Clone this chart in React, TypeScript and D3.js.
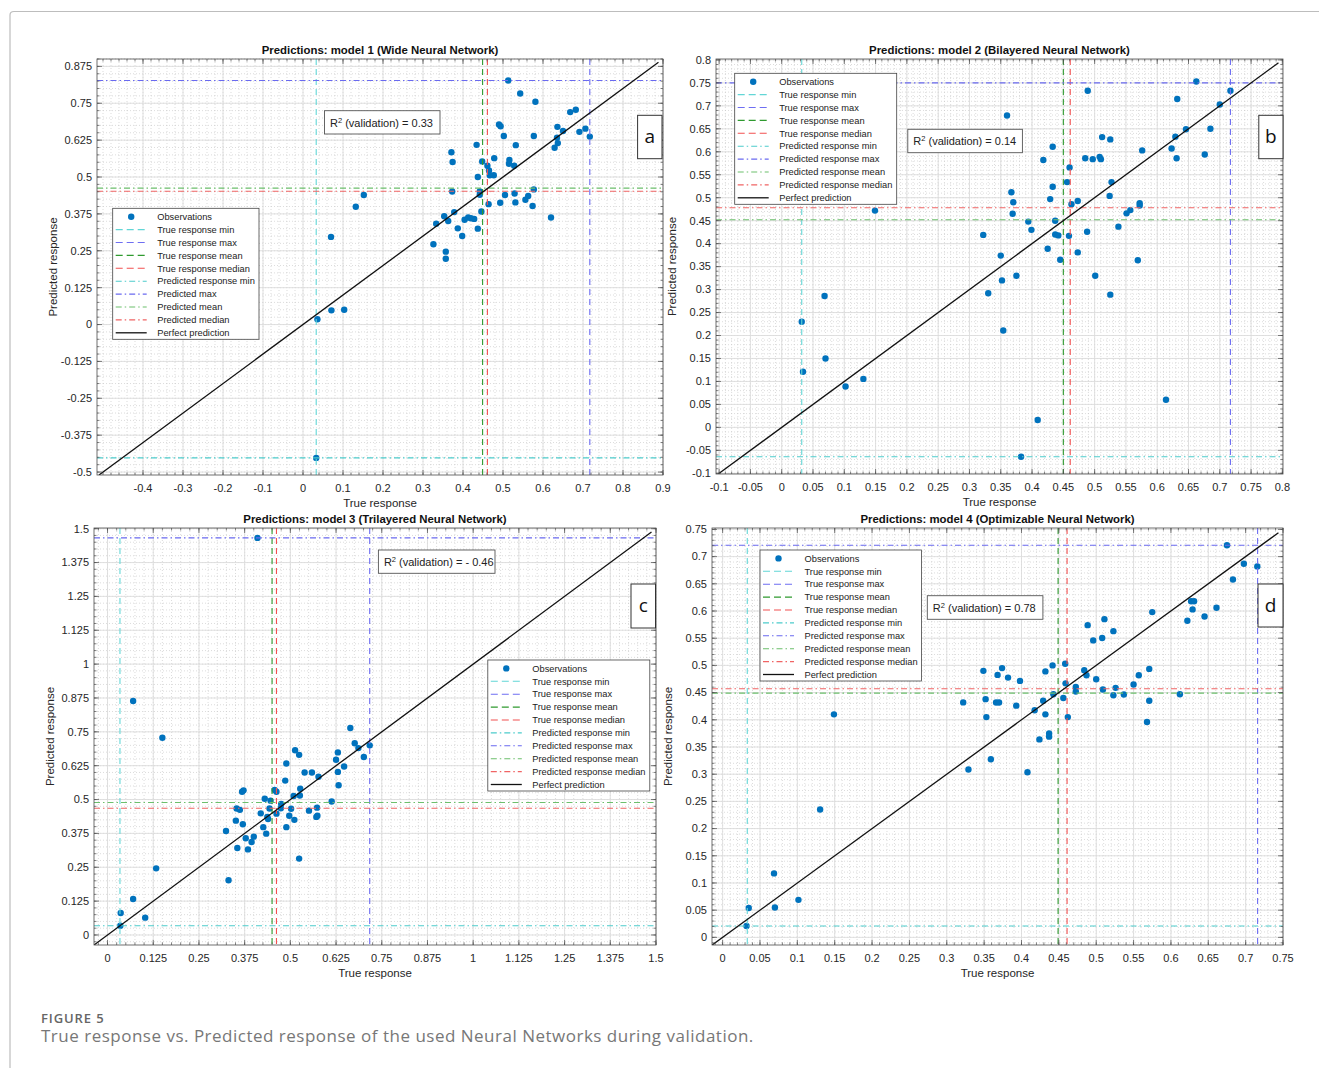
import * as d3 from "d3";

// ---- observations (true response, predicted response) ----
const trueA = [0.513, 0.543, 0.581, 0.668, 0.682, 0.490, 0.494, 0.636, 0.650, 0.691, 0.706, 0.717, 0.577, 0.502, 0.635, 0.637, 0.629, 0.532, 0.434, 0.371, 0.374, 0.448, 0.478, 0.516, 0.515, 0.528, 0.461, 0.465, 0.467, 0.477, 0.437, 0.373, 0.442, 0.442, 0.577, 0.529, 0.505, 0.563, 0.556, 0.531, 0.493, 0.464, 0.574, 0.446, 0.378, 0.353, 0.363, 0.333, 0.404, 0.413, 0.428, 0.420, 0.620, 0.387, 0.437, 0.398, 0.326, 0.357, 0.357, 0.152, 0.132, 0.070, 0.071, 0.103, 0.036, 0.033];
const predA = [0.827, 0.783, 0.755, 0.720, 0.728, 0.678, 0.672, 0.670, 0.656, 0.653, 0.664, 0.637, 0.639, 0.639, 0.633, 0.615, 0.599, 0.608, 0.609, 0.584, 0.551, 0.553, 0.564, 0.558, 0.545, 0.538, 0.538, 0.522, 0.506, 0.506, 0.500, 0.451, 0.451, 0.440, 0.458, 0.444, 0.439, 0.436, 0.423, 0.414, 0.413, 0.408, 0.402, 0.383, 0.381, 0.367, 0.351, 0.342, 0.355, 0.363, 0.358, 0.360, 0.363, 0.326, 0.325, 0.300, 0.272, 0.247, 0.223, 0.439, 0.399, 0.297, 0.048, 0.050, 0.018, -0.452];

const trueB = [0.6625, 0.489, 0.717, 0.632, 0.700, 0.360, 0.646, 0.685, 0.512, 0.525, 0.629, 0.433, 0.623, 0.576, 0.676, 0.485, 0.497, 0.508, 0.510, 0.631, 0.418, 0.460, 0.456, 0.527, 0.433, 0.367, 0.524, 0.429, 0.370, 0.473, 0.463, 0.572, 0.572, 0.149, 0.557, 0.551, 0.369, 0.394, 0.437, 0.399, 0.538, 0.488, 0.322, 0.437, 0.442, 0.459, 0.425, 0.473, 0.350, 0.445, 0.569, 0.352, 0.375, 0.501, 0.330, 0.525, 0.0685, 0.032, 0.354, 0.070, 0.034, 0.1305, 0.102, 0.614, 0.409, 0.3825];
const predB = [0.753, 0.733, 0.733, 0.715, 0.703, 0.679, 0.649, 0.650, 0.632, 0.627, 0.633, 0.611, 0.607, 0.603, 0.594, 0.586, 0.584, 0.589, 0.584, 0.586, 0.582, 0.566, 0.534, 0.534, 0.524, 0.512, 0.504, 0.497, 0.490, 0.493, 0.486, 0.488, 0.483, 0.472, 0.473, 0.466, 0.465, 0.448, 0.450, 0.430, 0.437, 0.426, 0.419, 0.420, 0.418, 0.417, 0.389, 0.381, 0.374, 0.365, 0.364, 0.320, 0.330, 0.330, 0.292, 0.289, 0.286, 0.230, 0.211, 0.150, 0.121, 0.1055, 0.089, 0.060, 0.016, -0.064];

const trueC = [0.410, 0.070, 0.150, 0.664, 0.676, 0.686, 0.717, 0.630, 0.701, 0.625, 0.647, 0.630, 0.632, 0.513, 0.524, 0.489, 0.539, 0.559, 0.577, 0.486, 0.527, 0.457, 0.462, 0.368, 0.372, 0.526, 0.509, 0.430, 0.446, 0.613, 0.475, 0.353, 0.362, 0.443, 0.474, 0.502, 0.573, 0.551, 0.419, 0.462, 0.497, 0.437, 0.439, 0.511, 0.571, 0.574, 0.351, 0.370, 0.426, 0.489, 0.324, 0.434, 0.400, 0.378, 0.394, 0.355, 0.384, 0.524, 0.133, 0.331, 0.070, 0.036, 0.103, 0.035];
const predC = [1.466, 0.864, 0.728, 0.764, 0.708, 0.690, 0.700, 0.674, 0.657, 0.647, 0.622, 0.602, 0.553, 0.682, 0.665, 0.633, 0.600, 0.600, 0.584, 0.570, 0.540, 0.535, 0.529, 0.529, 0.534, 0.515, 0.513, 0.503, 0.496, 0.493, 0.484, 0.467, 0.462, 0.467, 0.468, 0.466, 0.470, 0.459, 0.449, 0.448, 0.440, 0.436, 0.428, 0.425, 0.436, 0.440, 0.422, 0.409, 0.398, 0.398, 0.384, 0.374, 0.363, 0.357, 0.343, 0.321, 0.316, 0.282, 0.246, 0.202, 0.133, 0.081, 0.064, 0.034];

const trueD = [0.675, 0.6976, 0.7156, 0.683, 0.627, 0.631, 0.629, 0.661, 0.645, 0.622, 0.575, 0.511, 0.4886, 0.523, 0.508, 0.496, 0.4585, 0.4416, 0.374, 0.349, 0.432, 0.484, 0.571, 0.368, 0.382, 0.487, 0.557, 0.398, 0.500, 0.459, 0.550, 0.4727, 0.526, 0.509, 0.4727, 0.523, 0.537, 0.612, 0.4427, 0.456, 0.352, 0.429, 0.571, 0.322, 0.366, 0.370, 0.393, 0.4176, 0.432, 0.149, 0.353, 0.462, 0.568, 0.437, 0.437, 0.424, 0.359, 0.329, 0.408, 0.1305, 0.0688, 0.035, 0.070, 0.1015, 0.032];
const predD = [0.721, 0.687, 0.682, 0.658, 0.618, 0.618, 0.603, 0.606, 0.590, 0.582, 0.598, 0.585, 0.574, 0.563, 0.5505, 0.546, 0.503, 0.500, 0.495, 0.490, 0.489, 0.491, 0.4936, 0.4825, 0.4776, 0.482, 0.482, 0.4715, 0.4746, 0.467, 0.465, 0.4605, 0.4587, 0.4556, 0.452, 0.445, 0.4464, 0.447, 0.447, 0.440, 0.438, 0.435, 0.435, 0.432, 0.4317, 0.4317, 0.426, 0.4176, 0.410, 0.410, 0.405, 0.405, 0.396, 0.375, 0.369, 0.364, 0.3276, 0.3086, 0.3037, 0.235, 0.1176, 0.054, 0.055, 0.069, 0.021];

// ---- reference lines: [true min, true max, true mean, true median, pred min, pred max, pred mean, pred median] ----
const statsA = [0.033, 0.717, 0.449, 0.461, -0.452, 0.827, 0.4625, 0.452];
const statsB = [0.032, 0.717, 0.450, 0.461, -0.064, 0.750, 0.452, 0.478];
const statsC = [0.034, 0.717, 0.450, 0.462, 0.034, 1.466, 0.489, 0.468];
const statsD = [0.033, 0.716, 0.449, 0.461, 0.021, 0.721, 0.449, 0.457];

// ---- ticks ----
const ticksAx = [-0.4, -0.3, -0.2, -0.1, 0, 0.1, 0.2, 0.3, 0.4, 0.5, 0.6, 0.7, 0.8, 0.9];
const ticksAy = [-0.5, -0.375, -0.25, -0.125, 0, 0.125, 0.25, 0.375, 0.5, 0.625, 0.75, 0.875];
const ticksB = [-0.1, -0.05, 0, 0.05, 0.1, 0.15, 0.2, 0.25, 0.3, 0.35, 0.4, 0.45, 0.5, 0.55, 0.6, 0.65, 0.7, 0.75, 0.8];
const ticksC = [0, 0.125, 0.25, 0.375, 0.5, 0.625, 0.75, 0.875, 1, 1.125, 1.25, 1.375, 1.5];
const ticksD = [0, 0.05, 0.1, 0.15, 0.2, 0.25, 0.3, 0.35, 0.4, 0.45, 0.5, 0.55, 0.6, 0.65, 0.7, 0.75];

const legendShort = ["Observations", "True response min", "True response max", "True response mean", "True response median", "Predicted response min", "Predicted max", "Predicted mean", "Predicted median", "Perfect prediction"];
const legendLong = ["Observations", "True response min", "True response max", "True response mean", "True response median", "Predicted response min", "Predicted response max", "Predicted response mean", "Predicted response median", "Perfect prediction"];

const titles = [
  "Predictions: model 1 (Wide Neural Network)",
  "Predictions: model 2 (Bilayered Neural Network)",
  "Predictions: model 3 (Trilayered Neural Network)",
  "Predictions: model 4 (Optimizable Neural Network)",
];
const r2Values = ["0.33", "0.14", "- 0.46", "0.78"];
const panelLetters = ["a", "b", "c", "d"];

// line styles for the 8 reference lines
const lineColors = ["#62d6d6", "#6e6ef2", "#2f9a2f", "#f25050", "#4ccccc", "#6a6af0", "#6cbf6c", "#f06464"];
const DASH = "6,4";
const DASHDOT = "6,3,1.5,3";
const DOT = "#0072BD";
const FONT = "'Liberation Sans', Arial, Helvetica, sans-serif";

function fmt(v) {
  return String(+v.toFixed(3));
}

function Panel({ id, frame, xDom, yDom, xTicks, yTicks, xMinor, yMinor, xs, ys, stats, title, legend, legendBox, r2Box, r2, letter, letterBox }) {
  const { l, r, t, b } = frame;
  const x = d3.scaleLinear().domain(xDom).range([l, r]);
  const y = d3.scaleLinear().domain(yDom).range([b, t]);
  const minorX = d3.range(Math.ceil(xDom[0] / xMinor - 1e-6), Math.floor(xDom[1] / xMinor + 1e-6) + 1).map((i) => i * xMinor);
  const minorY = d3.range(Math.ceil(yDom[0] / yMinor - 1e-6), Math.floor(yDom[1] / yMinor + 1e-6) + 1).map((i) => i * yMinor);
  const lo = Math.max(xDom[0], yDom[0]);
  const hi = Math.min(xDom[1], yDom[1]) - 0.008 * (xDom[1] - xDom[0]);
  const cx = (l + r) / 2;
  const cy = (t + b) / 2;
  const rowH = 12.9;

  return (
    <g>
      <defs>
        <clipPath id={id}>
          <rect x={l} y={t} width={r - l} height={b - t} />
        </clipPath>
      </defs>
      <rect x={l} y={t} width={r - l} height={b - t} fill="#fff" />
      {/* minor grid */}
      <g stroke="#c4c4c4" strokeWidth={0.6} strokeDasharray="1,2">
        {minorX.map((v, i) => <line key={"mx" + i} x1={x(v)} x2={x(v)} y1={t} y2={b} />)}
        {minorY.map((v, i) => <line key={"my" + i} x1={l} x2={r} y1={y(v)} y2={y(v)} />)}
      </g>
      {/* major grid */}
      <g stroke="#dcdcdc" strokeWidth={0.9}>
        {xTicks.map((v, i) => <line key={"gx" + i} x1={x(v)} x2={x(v)} y1={t} y2={b} />)}
        {yTicks.map((v, i) => <line key={"gy" + i} x1={l} x2={r} y1={y(v)} y2={y(v)} />)}
      </g>

      <g clipPath={`url(#${id})`}>
        {xs.map((v, i) => <circle key={"p" + i} cx={x(v)} cy={y(ys[i])} r={3.2} fill={DOT} />)}
        {stats.slice(0, 4).map((v, i) => (
          <line key={"v" + i} x1={x(v)} x2={x(v)} y1={t} y2={b} stroke={lineColors[i]} strokeWidth={1.1} strokeDasharray={DASH} />
        ))}
        {stats.slice(4).map((v, i) => (
          <line key={"h" + i} x1={l} x2={r} y1={y(v)} y2={y(v)} stroke={lineColors[i + 4]} strokeWidth={1.1} strokeDasharray={DASHDOT} />
        ))}
        <line x1={x(lo)} y1={y(lo)} x2={x(hi)} y2={y(hi)} stroke="#111" strokeWidth={1.3} />
      </g>

      {/* axes box with inward ticks */}
      <rect x={l} y={t} width={r - l} height={b - t} fill="none" stroke="#4d4d4d" strokeWidth={0.8} />
      <g stroke="#4d4d4d" strokeWidth={0.7}>
        {minorX.map((v, i) => (
          <g key={"tx" + i}>
            <line x1={x(v)} x2={x(v)} y1={b} y2={b - 2.5} />
            <line x1={x(v)} x2={x(v)} y1={t} y2={t + 2.5} />
          </g>
        ))}
        {minorY.map((v, i) => (
          <g key={"ty" + i}>
            <line x1={l} x2={l + 2.5} y1={y(v)} y2={y(v)} />
            <line x1={r} x2={r - 2.5} y1={y(v)} y2={y(v)} />
          </g>
        ))}
        {xTicks.map((v, i) => (
          <g key={"Tx" + i}>
            <line x1={x(v)} x2={x(v)} y1={b} y2={b - 5} />
            <line x1={x(v)} x2={x(v)} y1={t} y2={t + 5} />
          </g>
        ))}
        {yTicks.map((v, i) => (
          <g key={"Ty" + i}>
            <line x1={l} x2={l + 5} y1={y(v)} y2={y(v)} />
            <line x1={r} x2={r - 5} y1={y(v)} y2={y(v)} />
          </g>
        ))}
      </g>

      <g fontFamily={FONT} fontSize={11} fill="#262626">
        {xTicks.map((v, i) => (
          <text key={"lx" + i} x={x(v)} y={b + 17} textAnchor="middle">{fmt(v)}</text>
        ))}
        {yTicks.map((v, i) => (
          <text key={"ly" + i} x={l - 5} y={y(v)} dy="0.35em" textAnchor="end">{fmt(v)}</text>
        ))}
        <text x={cx} y={b + 32} textAnchor="middle" fontSize={11.5}>True response</text>
        <text transform={`translate(${l - 40},${cy}) rotate(-90)`} textAnchor="middle" fontSize={11.5}>Predicted response</text>
        <text x={cx} y={t - 5.5} textAnchor="middle" fontWeight="bold" fontSize={11.4} fill="#111">{title}</text>
      </g>

      {/* R² box */}
      <rect x={r2Box.x} y={r2Box.y} width={r2Box.w} height={r2Box.h} fill="#fff" stroke="#555" strokeWidth={0.9} />
      <text x={r2Box.x + 5.5} y={r2Box.y + r2Box.h / 2} dy="0.38em" fontFamily={FONT} fontSize={11} fill="#222">
        R<tspan dy="-4" fontSize={7.5}>2</tspan><tspan dy="4"> (validation) = {r2}</tspan>
      </text>

      {/* panel letter */}
      <rect x={letterBox.x} y={letterBox.y} width={letterBox.w} height={letterBox.h} fill="#fff" stroke="#333" strokeWidth={1} />
      <text x={letterBox.x + letterBox.w / 2} y={letterBox.y + letterBox.h / 2} dy="0.33em" textAnchor="middle" fontFamily="'Open Sans', 'Noto Sans', sans-serif" fontSize={19} fill="#111">{letter}</text>

      {/* legend */}
      <g>
        <rect x={legendBox.x} y={legendBox.y} width={legendBox.w} height={131} fill="#fff" stroke="#444" strokeWidth={0.8} />
        {legend.map((lab, i) => {
          const ry = legendBox.y + 8.4 + i * rowH;
          let sample;
          if (i === 0) sample = <circle cx={legendBox.x + 18.5} cy={ry} r={3.2} fill={DOT} />;
          else if (i === 9) sample = <line x1={legendBox.x + 3} x2={legendBox.x + 34} y1={ry} y2={ry} stroke="#111" strokeWidth={1.3} />;
          else sample = (
            <line x1={legendBox.x + 3} x2={legendBox.x + 34} y1={ry} y2={ry} stroke={lineColors[i - 1]} strokeWidth={1.1} strokeDasharray={i <= 4 ? "7,4" : "6,3,1.5,3"} />
          );
          return (
            <g key={"lg" + i}>
              {sample}
              <text x={legendBox.x + 44.5} y={ry} dy="0.35em" fontFamily={FONT} fontSize={9.3} fill="#222">{lab}</text>
            </g>
          );
        })}
      </g>
    </g>
  );
}

export default function App() {
  const panels = [
    {
      id: "clipA", frame: { l: 97, r: 663, t: 59, b: 475 }, xDom: [-0.515, 0.9], yDom: [-0.51, 0.9],
      xTicks: ticksAx, yTicks: ticksAy, xMinor: 0.02, yMinor: 0.025, xs: trueA, ys: predA, stats: statsA,
      legend: legendShort, legendBox: { x: 112.7, y: 208.3, w: 146.3 },
      r2Box: { x: 324.5, y: 110.7, w: 115.5, h: 23.3 },
      letterBox: { x: 637.6, y: 115.3, w: 24.4, h: 43.4 },
    },
    {
      id: "clipB", frame: { l: 716, r: 1283, t: 59, b: 474 }, xDom: [-0.105, 0.801], yDom: [-0.1015, 0.802],
      xTicks: ticksB, yTicks: ticksB, xMinor: 0.01, yMinor: 0.01, xs: trueB, ys: predB, stats: statsB,
      legend: legendLong, legendBox: { x: 734.7, y: 73.3, w: 162 },
      r2Box: { x: 907.8, y: 129.3, w: 114.6, h: 23.4 },
      letterBox: { x: 1258.8, y: 115.3, w: 24.2, h: 43.4 },
    },
    {
      id: "clipC", frame: { l: 94, r: 656, t: 528, b: 945 }, xDom: [-0.037, 1.5], yDom: [-0.037, 1.5025],
      xTicks: ticksC, yTicks: ticksC, xMinor: 0.025, yMinor: 0.025, xs: trueC, ys: predC, stats: statsC,
      legend: legendLong, legendBox: { x: 487.8, y: 660, w: 162 },
      r2Box: { x: 378.4, y: 550, w: 116.6, h: 23.3 },
      letterBox: { x: 631, y: 584, w: 24.5, h: 44 },
    },
    {
      id: "clipD", frame: { l: 712, r: 1283, t: 528, b: 945 }, xDom: [-0.0142, 0.75], yDom: [-0.014, 0.7526],
      xTicks: ticksD, yTicks: ticksD, xMinor: 0.01, yMinor: 0.01, xs: trueD, ys: predD, stats: statsD,
      legend: legendLong, legendBox: { x: 760, y: 550, w: 161.6 },
      r2Box: { x: 927.3, y: 595.7, w: 115.6, h: 23.6 },
      letterBox: { x: 1258, y: 584, w: 25, h: 43 },
    },
  ];

  return (
    <svg width={1319} height={1068} style={{ position: "absolute", left: 0, top: 0, background: "#fff" }}>
      <rect width={1319} height={1068} fill="#fff" />
      <path d="M10,1068 L10,15 Q10,11.5 14,11.5 L1319,11.5" fill="none" stroke="#bdbdbd" strokeWidth={1.2} />
      {panels.map((p, i) => (
        <Panel key={p.id} {...p} title={titles[i]} r2={r2Values[i]} letter={panelLetters[i]} />
      ))}
      <text x={41} y={1022.5} fontFamily="'Open Sans', 'Noto Sans', sans-serif" fontSize={13} fontWeight={600} letterSpacing={0.9} fill="#666">FIGURE 5</text>
      <text x={41} y={1042} fontFamily="'Open Sans', 'Noto Sans', sans-serif" fontSize={17} letterSpacing={0.5} fill="#777">True response vs. Predicted response of the used Neural Networks during validation.</text>
    </svg>
  );
}
